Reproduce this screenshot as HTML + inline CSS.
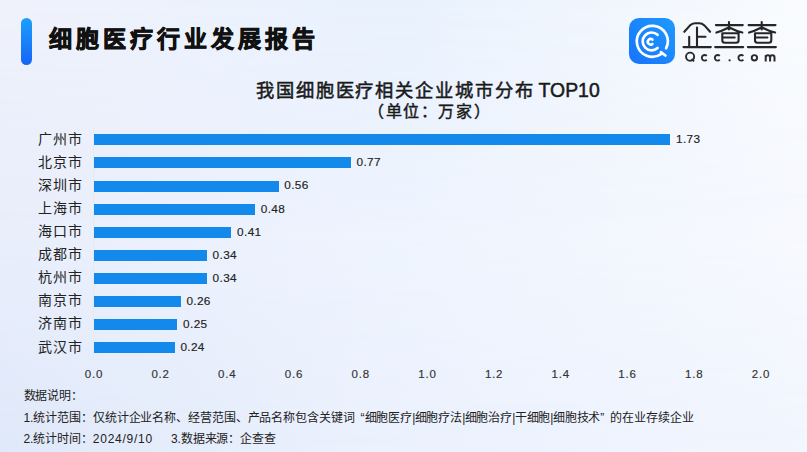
<!DOCTYPE html>
<html lang="zh-CN"><head><meta charset="utf-8">
<style>
*{margin:0;padding:0;box-sizing:border-box}
html,body{width:807px;height:452px;overflow:hidden}
body{position:relative;font-family:"Liberation Sans",sans-serif;color:#1c1c1c;
background:linear-gradient(to right,#e0e9fa 0%,#ebf1fd 45%,#eef4fe 75%,#f2f6fe 100%);}
#bgmid{position:absolute;left:0;top:0;width:807px;height:452px;
background:linear-gradient(to right,#e9eefb 0%,#eef4fe 50%,#f7f9fe 100%);
-webkit-mask-image:linear-gradient(to bottom,#000 0%,#000 50%,transparent 100%);}
#bgtop{position:absolute;left:0;top:0;width:807px;height:452px;
background:linear-gradient(to right,#eff1fb 0%,#ebf2fd 30%,#e8f1fd 50%,#f9fbfe 100%);
-webkit-mask-image:linear-gradient(to bottom,#000 0%,transparent 50%);}
.abs{position:absolute;white-space:nowrap}
#pill{left:20.5px;top:18px;width:11px;height:46.5px;border-radius:5.5px;background:linear-gradient(to bottom,#1c9fff,#1565f5)}
#title{left:48.8px;top:22.8px;font-size:23px;font-weight:bold;color:#111;letter-spacing:4px;line-height:32px;-webkit-text-stroke:0.8px #111}
#ctitle{left:256px;top:78px;font-size:18.3px;color:#1a1a1a;letter-spacing:1.9px;line-height:24px;-webkit-text-stroke:0.5px #1a1a1a}
#csub{left:368px;top:102px;font-size:16px;color:#1a1a1a;letter-spacing:1.6px;line-height:20px;-webkit-text-stroke:0.45px #1a1a1a}
.city{position:absolute;right:724px;font-size:14px;line-height:16px;color:#222;white-space:nowrap;letter-spacing:0.9px}
.bar{position:absolute;left:94px;height:11px;background:#1389eb}
.val{position:absolute;font-size:11.8px;line-height:12px;color:#222;white-space:nowrap;letter-spacing:0.35px;-webkit-text-stroke:0.15px #222}
#axis{left:93px;top:128px;width:1px;height:231px;background:#e5e9f3}
.tick{position:absolute;top:366.8px;font-size:11.5px;line-height:14px;color:#333;width:40px;text-align:center;letter-spacing:0.8px;text-indent:0.8px;-webkit-text-stroke:0.15px #333}
.note i{font-style:normal;letter-spacing:-0.7px}
.note{position:absolute;left:23.5px;font-size:12px;letter-spacing:-0.1px;line-height:14px;color:#222;white-space:nowrap}
</style></head><body>
<div id="bgmid"></div><div id="bgtop"></div>
<div class="abs" id="pill"></div>
<div class="abs" id="title">细胞医疗行业发展报告</div>

<!-- logo -->
<svg class="abs" style="left:620px;top:10px" width="180" height="60" viewBox="620 10 180 60">
  <defs><linearGradient id="lg" x1="0" y1="1" x2="1" y2="0">
    <stop offset="0" stop-color="#1674fc"/><stop offset="1" stop-color="#1e9aff"/></linearGradient></defs>
  <rect x="629" y="18" width="46" height="46" rx="10" fill="url(#lg)"/>
  <g fill="none" stroke="#fff" stroke-width="2.7" stroke-linecap="round">
    <path d="M 666.11 48.34 A 15.5 15.5 0 1 0 660.97 54.15"/>
    <path d="M 660.9 52.2 L 665.4 55.5"/>
    <path d="M 657.56 34.79 A 8.9 8.9 0 1 0 657.56 48.01"/>
    <path stroke-width="2.6" d="M 652.4 39.61 A 2.8 2.8 0 1 0 652.4 43.89"/>
  </g>
  <g fill="none" stroke="#262626" stroke-width="2.1" stroke-linecap="round" stroke-linejoin="round">
    <path d="M684.3 31.8 L689.8 25.6 Q692.2 23.2 695 23.2 H699.3 Q702.1 23.2 704.4 25.4 L710.1 31.8"/>
    <path d="M697 27.6 V47.1 M697 36.8 H705.5 M689.2 36.8 V47.1 M683.5 47.1 H710.8"/>
    <path d="M715.9 25.1 H742.8 M729 22 V29.5 M728.2 27.8 Q722 31 716.4 32.6 M729.8 27.8 Q736 31 742.4 32.6 M722.3 33.2 V40.2 Q722.3 42.7 724.8 42.7 H736.1 Q738.6 42.7 738.6 40.2 V33.2 Z M722.3 37.5 H734.7 M715.2 47.1 H743.2"/>
    <g transform="translate(32.7 0)"><path d="M715.9 25.1 H742.8 M729 22 V29.5 M728.2 27.8 Q722 31 716.4 32.6 M729.8 27.8 Q736 31 742.4 32.6 M722.3 33.2 V40.2 Q722.3 42.7 724.8 42.7 H736.1 Q738.6 42.7 738.6 40.2 V33.2 Z M722.3 37.5 H734.7 M715.2 47.1 H743.2"/></g>
  </g>
  <g fill="none" stroke="#2a2a2a" stroke-width="1.9">
    <circle cx="690.1" cy="56.7" r="4.05"/>
    <path d="M691.6 59 L694 61.4"/>
    <path d="M706.75 55.82 A2.85 2.85 0 1 0 706.75 59.78"/>
    <path d="M719.75 55.82 A2.85 2.85 0 1 0 719.75 59.78"/>
    <path d="M743.35 55.82 A2.85 2.85 0 1 0 743.35 59.78"/>
    <circle cx="754.4" cy="57.8" r="2.7"/>
    <path stroke-width="2" d="M765.7 61.6 V55.2 M765.7 57.5 Q765.7 55.2 767.9 55.2 Q770.1 55.2 770.1 57.5 V61.6 M770.1 57.5 Q770.1 55.2 772.3 55.2 Q774.5 55.2 774.5 57.5 V61.6"/>
  </g>
  <circle cx="729.6" cy="60.3" r="1.15" fill="#2a2a2a"/>
</svg>

<div class="abs" id="ctitle">我国细胞医疗相关企业城市分布<span style="letter-spacing:0;font-size:19.4px;margin-left:4px">TOP10</span></div>
<div class="abs" id="csub">（单位：万家）</div>

<div class="abs" id="axis"></div>

<div class="city" style="top:130.6px">广州市</div>
<div class="city" style="top:153.7px">北京市</div>
<div class="city" style="top:176.8px">深圳市</div>
<div class="city" style="top:199.9px">上海市</div>
<div class="city" style="top:223.0px">海口市</div>
<div class="city" style="top:246.1px">成都市</div>
<div class="city" style="top:269.2px">杭州市</div>
<div class="city" style="top:292.3px">南京市</div>
<div class="city" style="top:315.4px">济南市</div>
<div class="city" style="top:338.5px">武汉市</div>

<div class="bar" style="top:134.3px;width:575.6px"></div>
<div class="bar" style="top:157.4px;width:256.8px"></div>
<div class="bar" style="top:180.5px;width:185.1px"></div>
<div class="bar" style="top:203.6px;width:161.1px"></div>
<div class="bar" style="top:226.7px;width:137.4px"></div>
<div class="bar" style="top:249.8px;width:112.8px"></div>
<div class="bar" style="top:272.9px;width:112.8px"></div>
<div class="bar" style="top:296.0px;width:87px"></div>
<div class="bar" style="top:319.1px;width:83.3px"></div>
<div class="bar" style="top:342.2px;width:80.8px"></div>

<div class="val" style="top:133.2px;left:676.0px">1.73</div>
<div class="val" style="top:156.3px;left:356.5px">0.77</div>
<div class="val" style="top:179.4px;left:284.3px">0.56</div>
<div class="val" style="top:202.5px;left:260.8px">0.48</div>
<div class="val" style="top:225.6px;left:237.1px">0.41</div>
<div class="val" style="top:248.7px;left:212.6px">0.34</div>
<div class="val" style="top:271.8px;left:212.6px">0.34</div>
<div class="val" style="top:294.9px;left:186.4px">0.26</div>
<div class="val" style="top:318.0px;left:183.1px">0.25</div>
<div class="val" style="top:341.1px;left:180.4px">0.24</div>

<div class="tick" style="left:73.5px">0.0</div>
<div class="tick" style="left:140.2px">0.2</div>
<div class="tick" style="left:206.9px">0.4</div>
<div class="tick" style="left:273.6px">0.6</div>
<div class="tick" style="left:340.3px">0.8</div>
<div class="tick" style="left:407px">1.0</div>
<div class="tick" style="left:473.7px">1.2</div>
<div class="tick" style="left:540.4px">1.4</div>
<div class="tick" style="left:607.1px">1.6</div>
<div class="tick" style="left:673.8px">1.8</div>
<div class="tick" style="left:740.5px">2.0</div>

<div class="note" style="top:389px">数据说明：</div>
<div class="note" style="top:411px">1.统计范围：仅统计企业名称、经营范围、产品名称包含关键词<span style="margin-left:6px">“</span>细胞医疗<i>|</i>细胞疗法<i>|</i>细胞治疗<i>|</i>干细胞<i>|</i>细胞技术<span style="margin-right:6px">”</span>的在业存续企业</div>
<div class="note" style="top:432px">2.统计时间：<span style="letter-spacing:0.75px">2024/9/10</span><span style="margin-left:18px">3.</span>数据来源：企查查</div>
</body></html>
